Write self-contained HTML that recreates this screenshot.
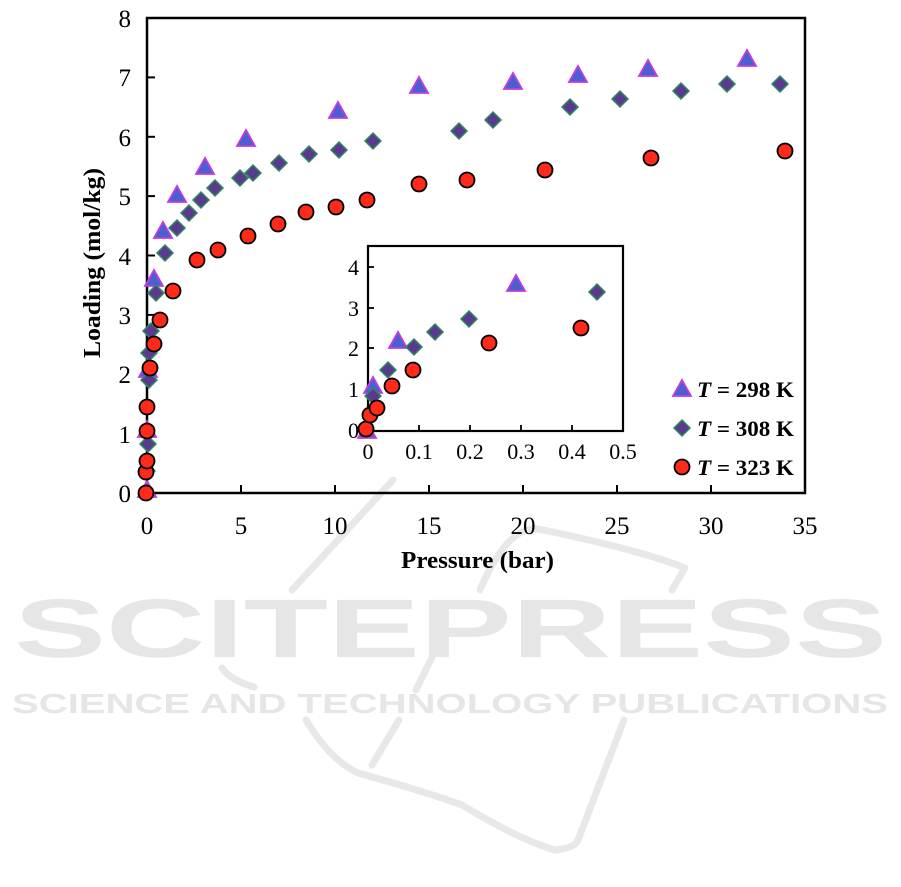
<!DOCTYPE html>
<html><head><style>body{margin:0;background:#fff}svg{display:block}</style></head>
<body>
<svg width="901" height="887" xmlns="http://www.w3.org/2000/svg" font-family="Liberation Serif, serif">
<defs>
<g id="tri"><polygon points="0,-9 9,7 -9,7" fill="#4a5fd0" stroke="#c03ce0" stroke-width="1.8"/></g>
<g id="dia"><polygon points="0,-8 8,0 0,8 -8,0" fill="#5a3a90" stroke="#2f8a5a" stroke-width="1.5"/></g>
<g id="cir"><circle r="7.5" fill="#ff2a1a" stroke="#000" stroke-width="1.8"/></g>
</defs>
<!-- watermark -->
<g fill="none" stroke="#e8e8e8" stroke-width="7" stroke-linecap="round" stroke-linejoin="round">
<path d="M292,590 L393,480"/>
<path d="M480,590 Q510,520 543,530 Q640,550 685,568 L672,590"/>
<path d="M222,668 Q230,680 254,687"/>
<path d="M306,720 Q330,760 358,773 Q420,790 462,805 Q520,840 555,850 Q575,848 578,840 L624,720"/>
<path d="M399,720 L372,765"/>
<path d="M439,643 L416,690"/>
</g>
<g fill="#e6e6e6" font-family="Liberation Sans, sans-serif" font-weight="bold">
<text x="14" y="657" font-size="83" textLength="873" lengthAdjust="spacingAndGlyphs">SCITEPRESS</text>
<text x="12" y="713" font-size="28" textLength="876" lengthAdjust="spacingAndGlyphs">SCIENCE AND TECHNOLOGY PUBLICATIONS</text>
</g>
<!-- main axes -->
<rect x="147" y="18" width="658" height="475" fill="none" stroke="#000" stroke-width="2.5"/>
<g stroke="#000" stroke-width="2">
<line x1="147" y1="433.6" x2="155" y2="433.6"/><line x1="147" y1="374.3" x2="155" y2="374.3"/><line x1="147" y1="314.9" x2="155" y2="314.9"/><line x1="147" y1="255.5" x2="155" y2="255.5"/><line x1="147" y1="196.1" x2="155" y2="196.1"/><line x1="147" y1="136.8" x2="155" y2="136.8"/><line x1="147" y1="77.4" x2="155" y2="77.4"/>
<line x1="241" y1="493" x2="241" y2="485"/><line x1="335" y1="493" x2="335" y2="485"/><line x1="429" y1="493" x2="429" y2="485"/><line x1="523" y1="493" x2="523" y2="485"/><line x1="617" y1="493" x2="617" y2="485"/><line x1="711" y1="493" x2="711" y2="485"/>
</g>
<g font-size="25" text-anchor="end">
<text x="131" y="502">0</text><text x="131" y="443">1</text><text x="131" y="383">2</text><text x="131" y="324">3</text><text x="131" y="265">4</text><text x="131" y="205">5</text><text x="131" y="146">6</text><text x="131" y="86">7</text><text x="131" y="27">8</text>
</g>
<g font-size="25" text-anchor="middle">
<text x="147" y="534">0</text><text x="241" y="534">5</text><text x="335" y="534">10</text><text x="429" y="534">15</text><text x="523" y="534">20</text><text x="617" y="534">25</text><text x="711" y="534">30</text><text x="805" y="534">35</text>
</g>
<text x="401" y="568" font-size="24" font-weight="bold" textLength="153" lengthAdjust="spacingAndGlyphs">Pressure (bar)</text>
<text transform="translate(100,358) rotate(-90)" font-size="24" font-weight="bold" textLength="190" lengthAdjust="spacingAndGlyphs">Loading (mol/kg)</text>
<!-- inset -->
<rect x="368" y="246" width="255" height="185" fill="#fff" stroke="#000" stroke-width="2.2"/>
<g stroke="#000" stroke-width="1.8">
<line x1="368" y1="389" x2="374" y2="389"/><line x1="368" y1="348" x2="374" y2="348"/><line x1="368" y1="308" x2="374" y2="308"/><line x1="368" y1="267" x2="374" y2="267"/>
<line x1="419" y1="431" x2="419" y2="425"/><line x1="470" y1="431" x2="470" y2="425"/><line x1="521" y1="431" x2="521" y2="425"/><line x1="572" y1="431" x2="572" y2="425"/>
</g>
<g font-size="22" text-anchor="end">
<text x="359" y="438">0</text><text x="359" y="397">1</text><text x="359" y="356">2</text><text x="359" y="316">3</text><text x="359" y="275">4</text>
</g>
<g font-size="22" text-anchor="middle">
<text x="368" y="459">0</text><text x="419" y="459">0.1</text><text x="470" y="459">0.2</text><text x="521" y="459">0.3</text><text x="572" y="459">0.4</text><text x="623" y="459">0.5</text>
</g>
<!-- main series -->
<g>
<use href="#tri" x="147" y="490"/><use href="#tri" x="147" y="430"/><use href="#tri" x="148" y="370"/>
<use href="#tri" x="154" y="279"/><use href="#tri" x="163" y="231"/><use href="#tri" x="177" y="195"/><use href="#tri" x="205" y="167"/><use href="#tri" x="246" y="139"/><use href="#tri" x="338" y="111"/><use href="#tri" x="419" y="86"/><use href="#tri" x="513" y="82"/><use href="#tri" x="578" y="75"/><use href="#tri" x="648" y="69"/><use href="#tri" x="747" y="59"/>
</g>
<g>
<use href="#dia" x="147" y="471"/><use href="#dia" x="148" y="444"/><use href="#dia" x="149" y="380"/><use href="#dia" x="149" y="353"/><use href="#dia" x="151" y="331"/><use href="#dia" x="156" y="293"/><use href="#dia" x="165" y="253"/><use href="#dia" x="177" y="228"/><use href="#dia" x="189" y="213"/><use href="#dia" x="201" y="200"/><use href="#dia" x="215" y="188"/><use href="#dia" x="240" y="178"/><use href="#dia" x="253" y="173"/><use href="#dia" x="279" y="163"/><use href="#dia" x="309" y="154"/><use href="#dia" x="339" y="150"/><use href="#dia" x="373" y="141"/><use href="#dia" x="459" y="131"/><use href="#dia" x="493" y="120"/><use href="#dia" x="570" y="107"/><use href="#dia" x="620" y="99"/><use href="#dia" x="681" y="91"/><use href="#dia" x="727" y="84"/><use href="#dia" x="780" y="84"/>
</g>
<g>
<use href="#cir" x="146" y="493"/><use href="#cir" x="146" y="472"/><use href="#cir" x="147" y="461"/><use href="#cir" x="147" y="431"/><use href="#cir" x="147" y="407"/><use href="#cir" x="150" y="368"/><use href="#cir" x="154" y="344"/><use href="#cir" x="160" y="320"/><use href="#cir" x="173" y="291"/><use href="#cir" x="197" y="260"/><use href="#cir" x="218" y="250"/><use href="#cir" x="248" y="236"/><use href="#cir" x="278" y="224"/><use href="#cir" x="306" y="212"/><use href="#cir" x="336" y="207"/><use href="#cir" x="367" y="200"/><use href="#cir" x="419" y="184"/><use href="#cir" x="467" y="180"/><use href="#cir" x="545" y="170"/><use href="#cir" x="651" y="158"/><use href="#cir" x="785" y="151"/>
</g>
<!-- inset series -->
<g>
<use href="#tri" x="367" y="431"/><use href="#tri" x="373" y="386"/><use href="#tri" x="398" y="341"/><use href="#tri" x="516" y="284"/>
<use href="#dia" x="373" y="396"/><use href="#dia" x="388" y="370"/><use href="#dia" x="414" y="347"/><use href="#dia" x="435" y="332"/><use href="#dia" x="469" y="319"/><use href="#dia" x="597" y="292"/>
<use href="#cir" x="366" y="429"/><use href="#cir" x="370" y="415"/><use href="#cir" x="377" y="408"/><use href="#cir" x="392" y="386"/><use href="#cir" x="413" y="370"/><use href="#cir" x="489" y="343"/><use href="#cir" x="581" y="328"/>
</g>
<!-- legend -->
<use href="#tri" x="682" y="389"/><use href="#dia" x="682" y="428"/><use href="#cir" x="682" y="467"/>
<g font-size="22" font-weight="bold">
<text x="697" y="397" textLength="97" lengthAdjust="spacingAndGlyphs"><tspan font-style="italic">T</tspan> = 298 K</text>
<text x="697" y="436" textLength="97" lengthAdjust="spacingAndGlyphs"><tspan font-style="italic">T</tspan> = 308 K</text>
<text x="697" y="475" textLength="97" lengthAdjust="spacingAndGlyphs"><tspan font-style="italic">T</tspan> = 323 K</text>
</g>
</svg>
</body></html>
